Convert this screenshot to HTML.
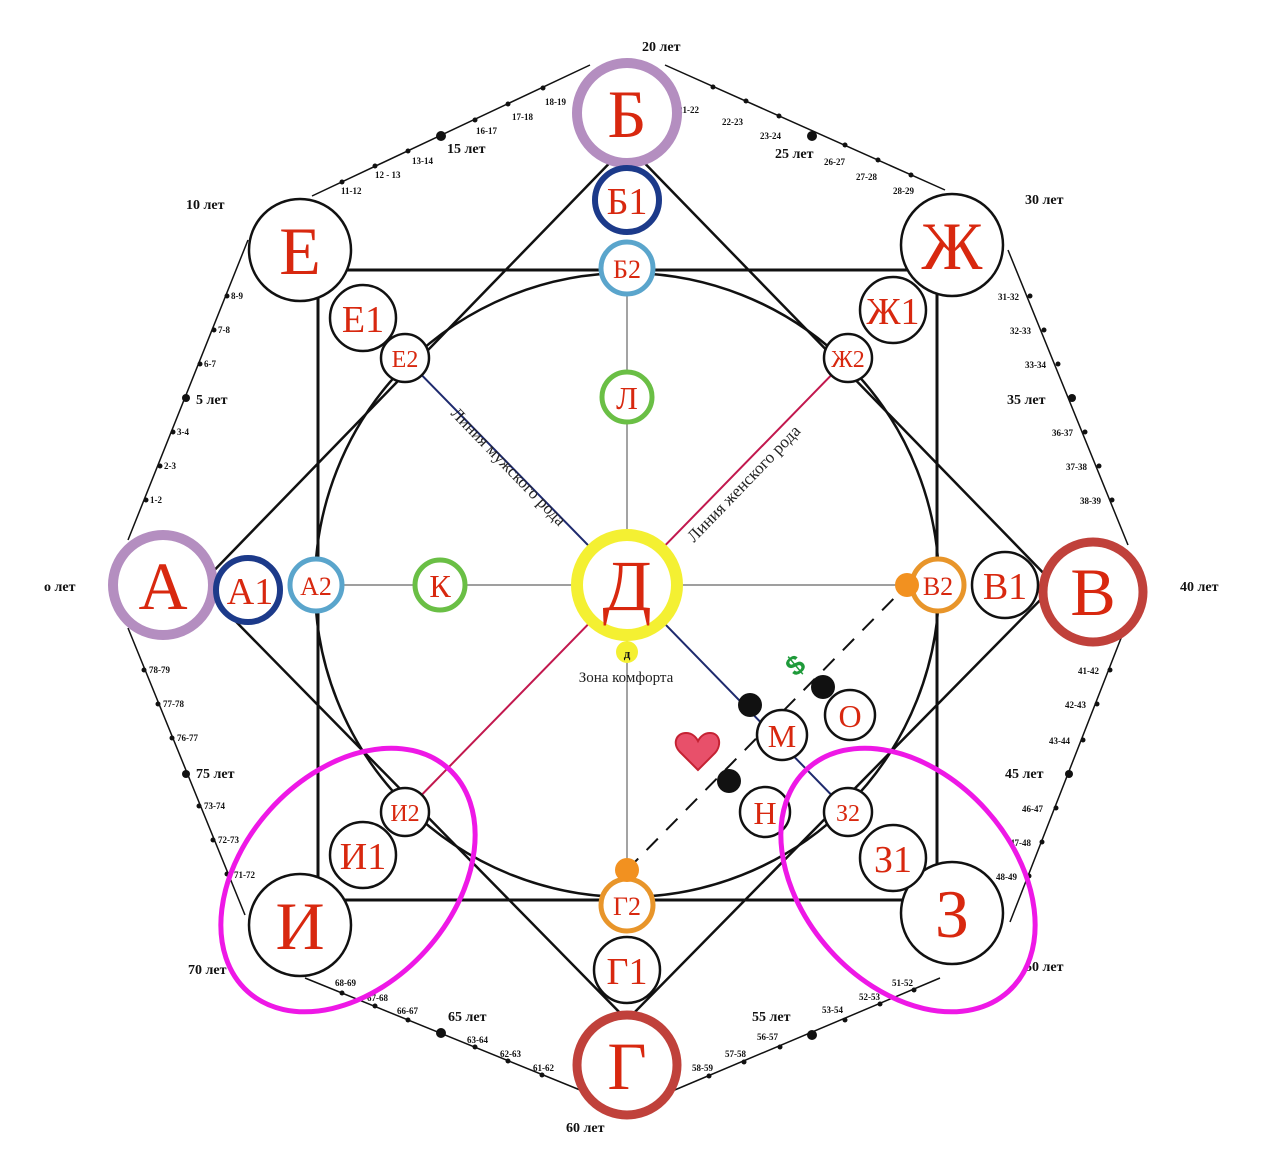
<!DOCTYPE html>
<html><head><meta charset="utf-8"><style>
html,body{margin:0;padding:0;background:#fff;width:1280px;height:1169px;overflow:hidden}
svg{display:block}
.big{font-family:"Liberation Serif",serif;fill:#d8280f;text-anchor:middle}
.age{font-family:"Liberation Serif",serif;font-weight:bold;font-size:14px;fill:#111}
.sm{font-family:"Liberation Serif",serif;font-weight:bold;font-size:9px;fill:#111}
</style></head><body>
<svg width="1280" height="1169" viewBox="0 0 1280 1169" xmlns="http://www.w3.org/2000/svg">
<g stroke="#111" stroke-width="1.5" fill="none">
<line x1="312" y1="196" x2="590" y2="65"/>
<line x1="665" y1="65" x2="945" y2="190"/>
<line x1="1008" y1="250" x2="1128" y2="545"/>
<line x1="1125" y1="628" x2="1010" y2="922"/>
<line x1="940" y1="978" x2="670" y2="1092"/>
<line x1="585" y1="1092" x2="305" y2="978"/>
<line x1="245" y1="915" x2="128" y2="628"/>
<line x1="128" y1="540" x2="248" y2="240"/>
</g>
<g fill="#111">
<circle cx="342" cy="182" r="2.5"/><circle cx="375" cy="166" r="2.5"/><circle cx="408" cy="151" r="2.5"/><circle cx="441" cy="136" r="5"/><circle cx="475" cy="120" r="2.5"/><circle cx="508" cy="104" r="2.5"/><circle cx="543" cy="88" r="2.5"/>
<circle cx="713" cy="87" r="2.5"/><circle cx="746" cy="101" r="2.5"/><circle cx="779" cy="116" r="2.5"/><circle cx="812" cy="136" r="5"/><circle cx="845" cy="145" r="2.5"/><circle cx="878" cy="160" r="2.5"/><circle cx="911" cy="175" r="2.5"/>
<circle cx="1030" cy="296" r="2.5"/><circle cx="1044" cy="330" r="2.5"/><circle cx="1058" cy="364" r="2.5"/><circle cx="1072" cy="398" r="4"/><circle cx="1085" cy="432" r="2.5"/><circle cx="1099" cy="466" r="2.5"/><circle cx="1112" cy="500" r="2.5"/>
<circle cx="1110" cy="670" r="2.5"/><circle cx="1097" cy="704" r="2.5"/><circle cx="1083" cy="740" r="2.5"/><circle cx="1069" cy="774" r="4"/><circle cx="1056" cy="808" r="2.5"/><circle cx="1042" cy="842" r="2.5"/><circle cx="1029" cy="876" r="2.5"/>
<circle cx="914" cy="990" r="2.5"/><circle cx="880" cy="1004" r="2.5"/><circle cx="845" cy="1020" r="2.5"/><circle cx="812" cy="1035" r="5"/><circle cx="780" cy="1047" r="2.5"/><circle cx="744" cy="1062" r="2.5"/><circle cx="709" cy="1076" r="2.5"/>
<circle cx="342" cy="993" r="2.5"/><circle cx="375" cy="1006" r="2.5"/><circle cx="408" cy="1020" r="2.5"/><circle cx="441" cy="1033" r="5"/><circle cx="475" cy="1047" r="2.5"/><circle cx="508" cy="1061" r="2.5"/><circle cx="542" cy="1075" r="2.5"/>
<circle cx="144" cy="670" r="2.5"/><circle cx="158" cy="704" r="2.5"/><circle cx="172" cy="738" r="2.5"/><circle cx="186" cy="774" r="4"/><circle cx="199" cy="806" r="2.5"/><circle cx="213" cy="840" r="2.5"/><circle cx="227" cy="874" r="2.5"/>
<circle cx="146" cy="500" r="2.5"/><circle cx="160" cy="466" r="2.5"/><circle cx="173" cy="432" r="2.5"/><circle cx="186" cy="398" r="4"/><circle cx="200" cy="364" r="2.5"/><circle cx="214" cy="330" r="2.5"/><circle cx="227" cy="296" r="2.5"/>
</g>
<g class="sm">
<text x="341" y="194">11-12</text><text x="375" y="178">12 - 13</text><text x="412" y="164">13-14</text><text x="476" y="134">16-17</text><text x="512" y="120">17-18</text><text x="545" y="105">18-19</text>
<text x="678" y="113">21-22</text><text x="722" y="125">22-23</text><text x="760" y="139">23-24</text><text x="824" y="165">26-27</text><text x="856" y="180">27-28</text><text x="893" y="194">28-29</text>
<text x="998" y="300">31-32</text><text x="1010" y="334">32-33</text><text x="1025" y="368">33-34</text><text x="1052" y="436">36-37</text><text x="1066" y="470">37-38</text><text x="1080" y="504">38-39</text>
<text x="1078" y="674">41-42</text><text x="1065" y="708">42-43</text><text x="1049" y="744">43-44</text><text x="1022" y="812">46-47</text><text x="1010" y="846">47-48</text><text x="996" y="880">48-49</text>
<text x="892" y="986">51-52</text><text x="859" y="1000">52-53</text><text x="822" y="1013">53-54</text><text x="757" y="1040">56-57</text><text x="725" y="1057">57-58</text><text x="692" y="1071">58-59</text>
<text x="335" y="986">68-69</text><text x="367" y="1001">67-68</text><text x="397" y="1014">66-67</text><text x="467" y="1043">63-64</text><text x="500" y="1057">62-63</text><text x="533" y="1071">61-62</text>
<text x="149" y="673">78-79</text><text x="163" y="707">77-78</text><text x="177" y="741">76-77</text><text x="204" y="809">73-74</text><text x="218" y="843">72-73</text><text x="234" y="878">71-72</text>
<text x="150" y="503">1-2</text><text x="164" y="469">2-3</text><text x="177" y="435">3-4</text><text x="204" y="367">6-7</text><text x="218" y="333">7-8</text><text x="231" y="299">8-9</text>
</g>
<g class="age">
<text x="642" y="51">20 лет</text><text x="447" y="153">15 лет</text><text x="775" y="158">25 лет</text><text x="1025" y="204">30 лет</text>
<text x="186" y="209">10 лет</text><text x="196" y="404">5 лет</text><text x="1007" y="404">35 лет</text>
<text x="44" y="591">о лет</text><text x="1180" y="591">40 лет</text>
<text x="196" y="778">75 лет</text><text x="1005" y="778">45 лет</text>
<text x="188" y="974">70 лет</text><text x="1025" y="971">50 лет</text>
<text x="448" y="1021">65 лет</text><text x="752" y="1021">55 лет</text><text x="566" y="1132">60 лет</text>
</g>
<rect x="318" y="270" width="619" height="630" fill="none" stroke="#111" stroke-width="3"/>
<circle cx="627" cy="585" r="312" fill="none" stroke="#111" stroke-width="2.5"/>
<polygon points="627,145 1055,585 627,1020 200,585" fill="none" stroke="#111" stroke-width="2.5"/>
<g stroke="#666" stroke-width="1.2">
<line x1="627" y1="270" x2="627" y2="900"/><line x1="318" y1="585" x2="937" y2="585"/>
</g>
<line x1="405" y1="358" x2="627" y2="585" stroke="#1e2a6e" stroke-width="2"/>
<line x1="627" y1="585" x2="848" y2="812" stroke="#1e2a6e" stroke-width="2"/>
<line x1="848" y1="358" x2="405" y2="812" stroke="#c2184e" stroke-width="2"/>
<line x1="627" y1="870" x2="907" y2="585" stroke="#111" stroke-width="2" stroke-dasharray="16,12"/>
<text transform="translate(450,414) rotate(46)" font-family="Liberation Serif,serif" font-size="17" fill="#222">Линия мужского рода</text>
<text transform="translate(694,543) rotate(-46)" font-family="Liberation Serif,serif" font-size="17" fill="#222">Линия женского рода</text>
<g fill="#fff">
<circle cx="627" cy="113" r="50" stroke="#b48ec0" stroke-width="10"/>
<circle cx="300" cy="250" r="51" stroke="#111" stroke-width="2.5"/>
<circle cx="952" cy="245" r="51" stroke="#111" stroke-width="2.5"/>
<circle cx="163" cy="585" r="50" stroke="#b48ec0" stroke-width="10"/>
<circle cx="1093" cy="592" r="50" stroke="#c0413b" stroke-width="9"/>
<circle cx="300" cy="925" r="51" stroke="#111" stroke-width="2.5"/>
<circle cx="952" cy="913" r="51" stroke="#111" stroke-width="2.5"/>
<circle cx="627" cy="1065" r="50" stroke="#c0413b" stroke-width="9"/>
<circle cx="627" cy="200" r="32" stroke="#1c3a8a" stroke-width="6"/>
<circle cx="627" cy="268" r="26" stroke="#5aa5cc" stroke-width="5"/>
<circle cx="248" cy="590" r="32" stroke="#1c3a8a" stroke-width="6"/>
<circle cx="316" cy="585" r="26" stroke="#5aa5cc" stroke-width="5"/>
<circle cx="1005" cy="585" r="33" stroke="#111" stroke-width="2.5"/>
<circle cx="938" cy="585" r="26" stroke="#e8952a" stroke-width="5"/>
<circle cx="627" cy="970" r="33" stroke="#111" stroke-width="2.5"/>
<circle cx="627" cy="905" r="26" stroke="#e8952a" stroke-width="5"/>
<circle cx="363" cy="318" r="33" stroke="#111" stroke-width="2.5"/>
<circle cx="405" cy="358" r="24" stroke="#111" stroke-width="2.5"/>
<circle cx="893" cy="310" r="33" stroke="#111" stroke-width="2.5"/>
<circle cx="848" cy="358" r="24" stroke="#111" stroke-width="2.5"/>
<circle cx="363" cy="855" r="33" stroke="#111" stroke-width="2.5"/>
<circle cx="405" cy="812" r="24" stroke="#111" stroke-width="2.5"/>
<circle cx="893" cy="858" r="33" stroke="#111" stroke-width="2.5"/>
<circle cx="848" cy="812" r="24" stroke="#111" stroke-width="2.5"/>
<circle cx="627" cy="397" r="25" stroke="#6abf45" stroke-width="5"/>
<circle cx="440" cy="585" r="25" stroke="#6abf45" stroke-width="5"/>
<circle cx="627" cy="585" r="50" stroke="#f4f032" stroke-width="12"/>
<circle cx="782" cy="735" r="25" stroke="#111" stroke-width="2.5"/>
<circle cx="850" cy="715" r="25" stroke="#111" stroke-width="2.5"/>
<circle cx="765" cy="812" r="25" stroke="#111" stroke-width="2.5"/>
</g>
<circle cx="627" cy="652" r="11" fill="#f4f032"/>
<g fill="#111"><circle cx="750" cy="705" r="12"/><circle cx="823" cy="687" r="12"/><circle cx="729" cy="781" r="12"/></g>
<g fill="#f29120"><circle cx="907" cy="585" r="12"/><circle cx="627" cy="870" r="12"/></g>
<path d="M698 770 L680 752 C672 744 676 733 686 733 C692 733 696 737 698 741 C700 737 704 733 710 733 C720 733 722 745 715 753 Z" fill="#e8506a" stroke="#c52233" stroke-width="2"/>
<text x="795" y="675" transform="rotate(-40 795 665)" font-family="Liberation Sans,sans-serif" font-weight="bold" font-size="28" fill="#1e9a3a" text-anchor="middle">$</text>
<ellipse cx="348" cy="880" rx="150" ry="105" transform="rotate(-48 348 880)" fill="none" stroke="#ee18e6" stroke-width="5"/>
<ellipse cx="908" cy="880" rx="150" ry="105" transform="rotate(48 908 880)" fill="none" stroke="#ee18e6" stroke-width="5"/>
<g class="big">
<text x="627" y="137" font-size="68">Б</text>
<text x="300" y="274" font-size="68">Е</text>
<text x="952" y="269" font-size="68">Ж</text>
<text x="163" y="609" font-size="68">А</text>
<text x="1093" y="615" font-size="68">В</text>
<text x="300" y="949" font-size="68">И</text>
<text x="952" y="937" font-size="68">З</text>
<text x="627" y="1089" font-size="68">Г</text>
<text x="627" y="610" font-size="72">Д</text>
<text x="627" y="214" font-size="38">Б1</text>
<text x="627" y="278" font-size="26">Б2</text>
<text x="250" y="604" font-size="38">А1</text>
<text x="316" y="595" font-size="26">А2</text>
<text x="1005" y="599" font-size="38">В1</text>
<text x="938" y="595" font-size="26">В2</text>
<text x="627" y="984" font-size="38">Г1</text>
<text x="627" y="915" font-size="26">Г2</text>
<text x="363" y="332" font-size="38">Е1</text>
<text x="405" y="367" font-size="24">Е2</text>
<text x="893" y="324" font-size="38">Ж1</text>
<text x="848" y="367" font-size="24">Ж2</text>
<text x="363" y="869" font-size="38">И1</text>
<text x="405" y="821" font-size="24">И2</text>
<text x="893" y="872" font-size="38">З1</text>
<text x="848" y="821" font-size="24">З2</text>
<text x="627" y="409" font-size="32">Л</text>
<text x="440" y="597" font-size="32">К</text>
<text x="782" y="747" font-size="32">М</text>
<text x="850" y="727" font-size="32">О</text>
<text x="765" y="824" font-size="32">Н</text>
</g>
<text x="627" y="658" font-family="Liberation Serif,serif" font-weight="bold" font-size="13" fill="#111" text-anchor="middle">д</text>
<text x="626" y="682" font-family="Liberation Serif,serif" font-size="15" fill="#222" text-anchor="middle">Зона комфорта</text>
</svg>
</body></html>
